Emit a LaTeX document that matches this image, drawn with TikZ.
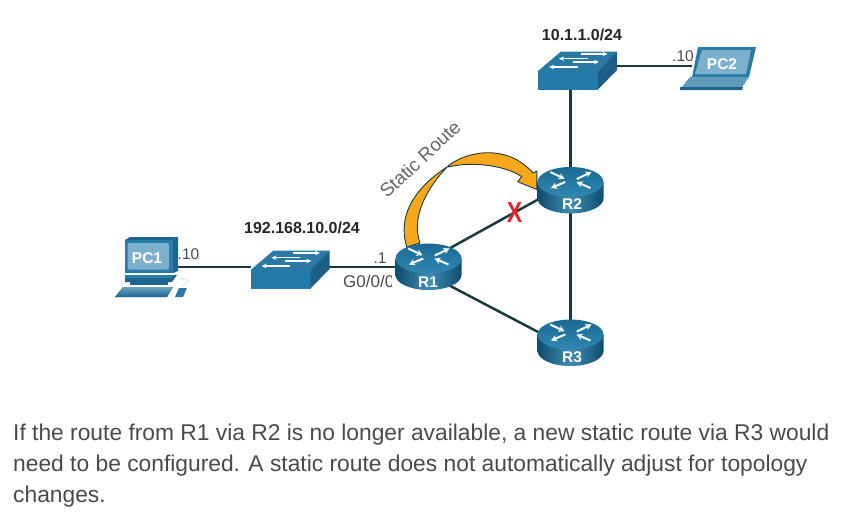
\documentclass[tikz,border=0pt]{standalone}
\usepackage{fontspec}
\setmainfont{Liberation Sans}
\usetikzlibrary{arrows.meta}
\definecolor{linkc}{HTML}{1C3A3C}
\definecolor{swtop}{HTML}{2A78A4}
\definecolor{swfront}{HTML}{2379A8}
\definecolor{swside}{HTML}{1B5F88}
\definecolor{rdark}{HTML}{0F4C6E}
\definecolor{rmid}{HTML}{3F8DB2}
\definecolor{rtop}{HTML}{1A6A94}
\definecolor{rtoplight}{HTML}{3088B0}
\definecolor{pcblue}{HTML}{2A7BA6}
\definecolor{pcdark}{HTML}{1C6590}
\definecolor{pcscreen}{HTML}{7DB0CC}
\definecolor{routeorange}{HTML}{F9A81B}
\definecolor{txtgray}{HTML}{4A4A4A}
\definecolor{crossred}{HTML}{E3262B}
\tikzset{
  devbox/.style={inner sep=0pt,outer sep=0pt},
  link/.style={draw=linkc,line width=2.5pt},
  small/.style={font=\fontsize{15.5}{18}\selectfont,text=txtgray,inner sep=0pt},
  netlabel/.style={font=\fontsize{16}{18}\selectfont\bfseries,text=black!85,inner sep=0pt},
  devlabel/.style={font=\fontsize{15.5}{18}\selectfont\bfseries,text=white,inner sep=0pt},
  body/.style={font=\fontsize{22.8}{26}\selectfont,text=txtgray,inner sep=0pt,anchor=base west},
  whitearrow/.style={draw=white,line width=2pt,-{Stealth[length=6pt,width=6.5pt]}},
  swarrow/.style={draw=white,line width=1.4pt,-{Stealth[length=5pt,width=4.5pt]}},
  routericon/.pic={
    \path[left color=rdark,right color=rdark,middle color=rmid]
      (-33,-8.5) -- (-33,8) arc[start angle=180,end angle=360,x radius=33pt,y radius=15pt] -- (33,-8.5) -- cycle;
    \path[top color=rtop,bottom color=rtoplight] (0,-8.5) ellipse[x radius=33pt,y radius=15pt];
    \draw[whitearrow] (-20.3,-18.5) -- (-6,-11.8);
    \draw[whitearrow] (6.3,-11.5) -- (21,-18.5);
    \draw[whitearrow] (-5.3,-8.5) -- (-19.5,-2.5);
    \draw[whitearrow] (20,-2.5) -- (6,-8.5);
  },
  switchicon/.pic={
    \fill[swtop] (0,0) -- (23,-19.5) -- (79,-19.5) -- (60,0) -- cycle;
    \fill[swfront] (0,0) -- (60,0) -- (60,18.5) -- (0,18.5) -- cycle;
    \fill[swside] (60,0) -- (79,-19.5) -- (79,-1) -- (60,18.5) -- cycle;
    \draw[swarrow] (42.5,-17) -- (69.5,-17);
    \draw[swarrow] (49.5,-12.3) -- (21,-12.3);
    \draw[swarrow] (34.5,-9) -- (61,-9);
    \draw[swarrow] (39.5,-4) -- (11,-4);
  }
}
\begin{document}
\begin{tikzpicture}[x=1pt,y=-1pt]
\useasboundingbox (0,0) rectangle (846,531);
% device place-holders
\node[devbox,minimum width=54pt,minimum height=60pt] (PC1) at (150,267) {};
\node[devbox,minimum width=78pt,minimum height=32pt] (SW1) at (290,267) {};
\node[devbox,minimum width=66pt,minimum height=46pt] (R1) at (428.5,267) {};
\node[devbox,minimum width=66pt,minimum height=46pt] (R2) at (570.5,190.5) {};
\node[devbox,minimum width=66pt,minimum height=46pt] (R3) at (570.5,343) {};
\node[devbox,minimum width=78pt,minimum height=32pt] (SW2) at (578,66) {};
\node[devbox,minimum width=64pt,minimum height=40pt] (PC2) at (724,66) {};
% links
\draw[link] (PC1.east) -- (SW1.west);
\draw[link] (SW1.east) -- (R1.west);
\draw[link] ([yshift=7pt]R1.center) -- ([yshift=9pt]R2.center);
\draw[link] ([yshift=-7.5pt]R1.center) -- ([yshift=-6pt]R3.center);
\draw[link] (R2.center) -- (R3.center);
\draw[link] (R2.center) -- (R2.center |- SW2.center);
\draw[link] (SW2.east) -- (PC2.west);
% static route arrow
\draw[fill=routeorange,draw=linkc,line width=.9pt,line join=round]
  (406.7,247) .. controls (400,225) and (404,195) .. (447,167)
  .. controls (465,151) and (507,143) .. (533,173)
  -- (537,171) -- (536.7,189.5) -- (517.7,181.7) -- (521.7,176.7)
  .. controls (510,168) and (480,161) .. (453,166)
  -- (447,167)
  .. controls (430,185) and (410,215) .. (420,243) -- cycle;
% switches
\path (SW1.center) ++(-39.5,3) pic {switchicon};
\path (SW2.center) ++(-40,5) pic {switchicon};
% routers
\path (R1.center) pic {routericon};
\path (R2.center) pic {routericon};
\path (R3.center) pic {routericon};
% PC1
\fill[pcdark] (125,240) -- (130,237) -- (178,237) -- (173,240) -- cycle;
\fill[pcdark] (173,240) -- (178,237) -- (178,271) -- (173,273) -- cycle;
\fill[pcblue] (125,240) rectangle (173,273);
\fill[pcscreen,rounded corners=2pt] (127.5,243) rectangle (169,269.5);
\fill[pcdark] (125,275) -- (177,275) -- (172,282) -- (125,282) -- cycle;
\fill[pcblue] (125,275) -- (175,275) -- (173,278) -- (125,278) -- cycle;
\fill[pcdark] (130,282) rectangle (168,285);
\fill[pcblue,top color=pcblue!70,bottom color=pcdark] (123,287) -- (173,287) -- (167,297) -- (115,297) -- cycle;
\draw[black!12,line width=.8pt] (182,286) .. controls (192,282) and (189,278) .. (180,279);
\fill[pcblue] (179,288) -- (187,288) -- (183,297) -- (175,297) -- cycle;
% PC2
\fill[pcblue] (698,47) -- (756,47) -- (749,77) -- (692,77) -- cycle;
\fill[pcscreen] (702,50) -- (751,50) -- (746,74) -- (695,74) -- cycle;
\fill[pcblue!75] (690,77) -- (749,77) -- (742,87) -- (682,87) -- cycle;
\fill[pcdark] (680,87) -- (743,87) -- (742,90) -- (680,90) -- cycle;
\foreach \yy in {80,83.5}{\draw[pcdark!70,line width=.4pt,dotted] (689,\yy) -- (745,\yy);}
% labels
\node[devlabel] (tPC1) at (147,258.5) {PC1};
\node[devlabel] (tPC2) at (722,64) {PC2};
\node[devlabel] (tR1) at (428,282) {R1};
\node[devlabel] (tR2) at (572,204.5) {R2};
\node[devlabel] (tR3) at (572,357) {R3};
\node[netlabel] (n1) at (302,228) {192.168.10.0/24};
\node[netlabel] (n2) at (582,35) {10.1.1.0/24};
\node[small] (a1) at (188.5,254) {.10};
\node[small] (a2) at (380,258) {.1};
\node[small] (a3) at (683,56) {.10};
\begin{scope}
\clip (340,270) rectangle (391,292);
\node[small,font=\fontsize{17}{18}\selectfont,anchor=west] (a4) at (343,281) {G0/0/0};
\end{scope}
\node[font=\fontsize{18.8}{22}\selectfont,text=txtgray!85,rotate=43,inner sep=0pt] (sr) at (420,159) {Static Route};
\node[font=\fontsize{29}{30}\selectfont\bfseries,text=crossred,xscale=.8,inner sep=0pt] (xx) at (514.5,212.5) {X};
\node[body] (b1) at (13,440) {If the route from R1 via R2 is no longer available, a new static route via R3 would};
\node[body] (b2) at (13,471) {need to be configured. A static route does not automatically adjust for topology};
\node[body] (b3) at (13,502) {changes.};
\end{tikzpicture}
\end{document}
